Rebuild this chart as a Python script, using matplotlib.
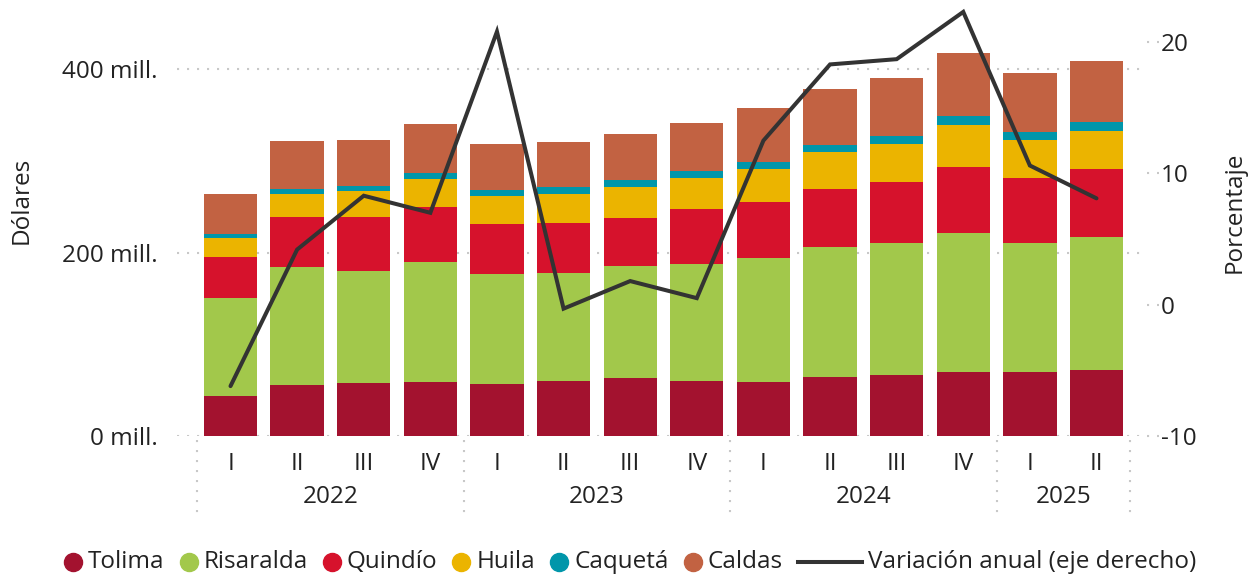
import matplotlib
matplotlib.use("Agg")
import matplotlib.pyplot as plt
from matplotlib.lines import Line2D
from matplotlib.transforms import blended_transform_factory
import numpy as np

plt.rcParams['font.family'] = ['Open Sans', 'DejaVu Sans']

# Quarterly exports by department (millions of dollars) and annual variation (%)
quarters = ["I", "II", "III", "IV", "I", "II", "III", "IV", "I", "II", "III", "IV", "I", "II"]
years = ["2022", "2023", "2024", "2025"]
year_spans = [(0, 3), (4, 7), (8, 11), (12, 13)]

tolima    = [43.6, 55.6, 57.8, 58.9, 56.7, 60.0, 63.3, 60.0, 58.9, 64.4, 66.6, 69.8, 69.8, 72.0]
risaralda = [107.0, 128.8, 122.2, 131.0, 120.1, 117.8, 122.2, 127.7, 135.3, 141.8, 144.0, 151.7, 140.8, 145.1]
quindio   = [44.7, 54.6, 59.0, 60.0, 54.5, 54.6, 52.4, 60.0, 61.1, 63.3, 66.5, 72.0, 70.9, 74.2]
huila     = [20.7, 25.0, 28.3, 30.5, 30.6, 31.6, 33.8, 33.8, 36.0, 40.4, 41.5, 45.8, 41.5, 41.5]
caqueta   = [4.4, 5.5, 5.8, 6.6, 6.5, 7.7, 7.6, 7.6, 7.7, 7.6, 8.7, 9.9, 8.7, 9.8]
caldas    = [43.6, 52.4, 49.9, 53.4, 50.2, 49.1, 50.2, 52.4, 58.9, 61.1, 63.3, 68.7, 64.3, 66.6]
variacion = [-6.2, 4.2, 8.3, 7.0, 20.8, -0.3, 1.8, 0.5, 12.5, 18.3, 18.7, 22.3, 10.6, 8.1]

series = [
    ("Tolima", tolima, "#A3122F"),
    ("Risaralda", risaralda, "#A2C84B"),
    ("Quindío", quindio, "#D6122C"),
    ("Huila", huila, "#EBB400"),
    ("Caquetá", caqueta, "#0096AA"),
    ("Caldas", caldas, "#C26242"),
]
line_label = "Variación anual (eje derecho)"
line_color = "#333333"
grid_color = "#C8C8C8"
text_color = "#222222"
fs = 17.5

W, H = 1250, 578
fig = plt.figure(figsize=(W / 100, H / 100), dpi=100)

ax_left, ax_right_px, ax_top, ax_bottom = 177, 1147, 5, 436
ax = fig.add_axes([ax_left / W, 1 - ax_bottom / H,
                   (ax_right_px - ax_left) / W, (ax_bottom - ax_top) / H])

x = np.arange(len(quarters))
px_per_unit = 66.6
ax.set_xlim(-(230.5 - ax_left) / px_per_unit, 13 + (ax_right_px - 1096.5) / px_per_unit)
ax.set_ylim(0, (ax_bottom - ax_top) / 0.9168)

bottom = np.zeros(len(quarters))
for name, vals, color in series:
    vals = np.array(vals)
    ax.bar(x, vals, width=0.8, bottom=bottom, color=color, label=name, zorder=2)
    bottom += vals

dot_style = dict(color=grid_color, linewidth=1.5, linestyle=(0, (1, 3.8)))
for yv in [0, 200, 400]:
    ax.axhline(yv, zorder=1, **dot_style)

ax.set_yticks([0, 200, 400])
ax.set_yticklabels(["0 mill.", "200 mill.", "400 mill."])
ax.tick_params(axis="y", length=0, pad=14, labelsize=fs, labelcolor=text_color)
ax.set_xticks([])
for s in ax.spines.values():
    s.set_visible(False)

ax2 = ax.twinx()
ax2.set_ylim(-10, -10 + (ax_bottom - ax_top) / 13.13)
ax2.plot(x, variacion, color=line_color, linewidth=2.9, zorder=5,
         solid_joinstyle="miter", solid_capstyle="round")
ax2.set_yticks([-10, 0, 10, 20])
ax2.set_yticklabels(["-10", "0", "10", "20"])
ax2.tick_params(axis="y", length=0, pad=10, labelsize=fs, labelcolor=text_color)
for s in ax2.spines.values():
    s.set_visible(False)
# short dotted tick marks for the right axis
for yv in [-10, 0, 10, 20]:
    ax2.plot([1.0, 1.012], [yv, yv], transform=blended_transform_factory(ax2.transAxes, ax2.transData),
             clip_on=False, **dot_style)

# category axis: quarters and years
trans = blended_transform_factory(ax.transData, ax.transAxes)
ax_h = ax_bottom - ax_top
for xi, q in zip(x, quarters):
    ax.text(xi, -(464 - ax_bottom) / ax_h, q, transform=trans, ha="center", va="center",
            fontsize=fs, color=text_color)
for (a, b), yr in zip(year_spans, years):
    ax.text((a + b) / 2, -(497 - ax_bottom) / ax_h, yr, transform=trans, ha="center", va="center",
            fontsize=fs, color=text_color)
for sep in [-0.5, 3.5, 7.5, 11.5, 13.5]:
    ax.plot([sep, sep], [-(440 - ax_bottom) / ax_h, -(520 - ax_bottom) / ax_h], transform=trans,
            clip_on=False, **dot_style)

fig.text(22 / W, 1 - 200 / H, "Dólares", rotation=90, ha="center", va="center",
         fontsize=fs, color=text_color)
fig.text(1235 / W, 1 - 212 / H, "Porcentaje", rotation=90, ha="center", va="center",
         fontsize=fs, color=text_color)

# legend laid out item by item along one row
renderer = fig.canvas.get_renderer()
leg_y = 1 - 562 / H
items = [("marker", n, c) for n, _, c in series] + [("line", line_label, line_color)]
marker_w, line_w, gap_after_handle, gap_between = 18, 64, 6, 15
artists = []
cursor = 0.0
for kind, label, color in items:
    hw = marker_w if kind == "marker" else line_w
    t = fig.text(0, leg_y, label, ha="left", va="center", fontsize=fs, color=text_color)
    tw = t.get_window_extent(renderer).width
    artists.append((kind, color, cursor, hw, t, tw))
    cursor += hw + gap_after_handle + tw + gap_between
total = cursor - gap_between
start = 630 - total / 2
for kind, color, off, hw, t, tw in artists:
    x0 = start + off
    if kind == "marker":
        fig.add_artist(Line2D([(x0 + hw / 2) / W], [leg_y], marker="o", markersize=13,
                              linestyle="none", color=color, transform=fig.transFigure))
    else:
        fig.add_artist(Line2D([x0 / W, (x0 + hw) / W], [leg_y, leg_y], color=color,
                              linewidth=2.9, transform=fig.transFigure))
    t.set_x((x0 + hw + gap_after_handle) / W)

fig.savefig("out.png", dpi=100)
